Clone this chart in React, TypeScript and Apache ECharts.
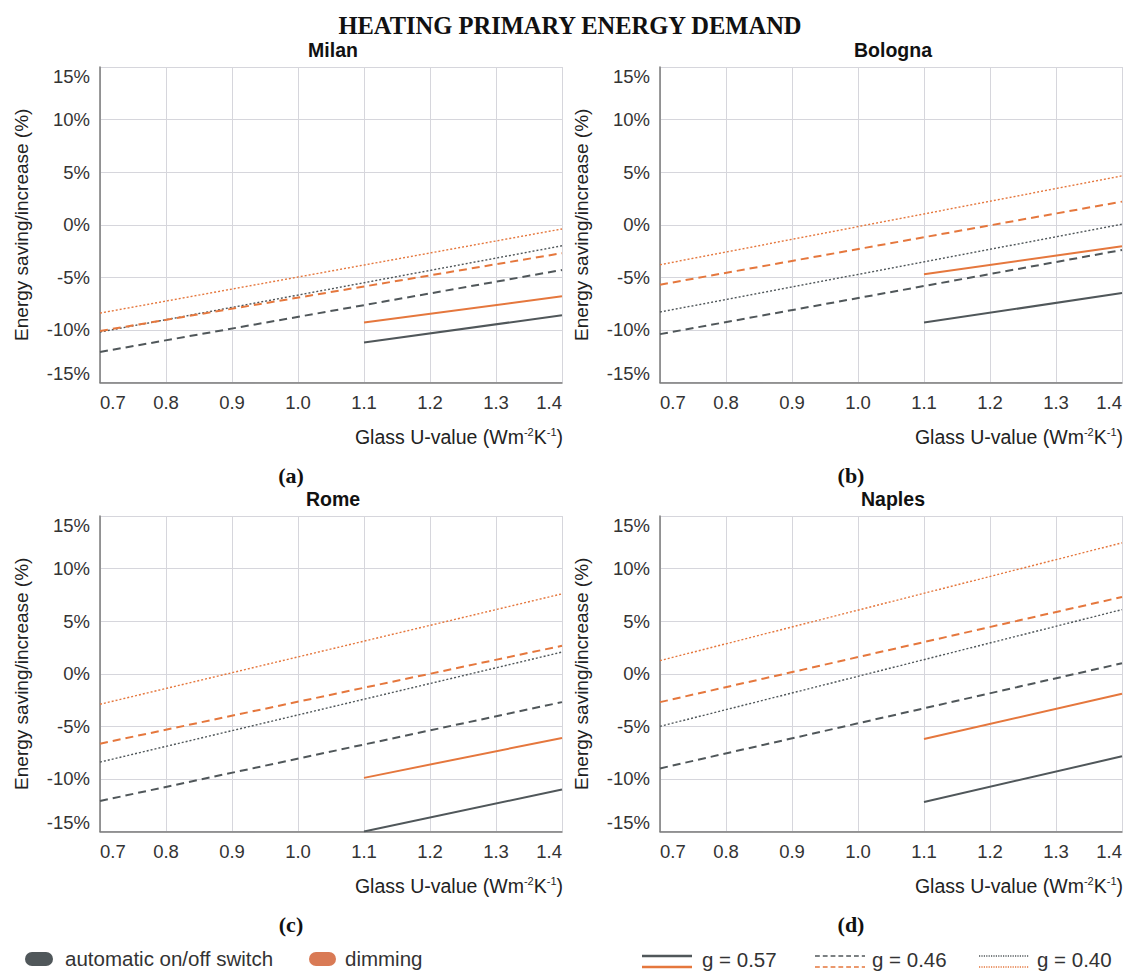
import React, { useEffect, useRef } from "react";
import * as echarts from "echarts";

// ---------- data ----------
const cities = ["Milan", "Bologna", "Rome", "Naples"];
const captions = ["(a)", "(b)", "(c)", "(d)"];
const uFull = [0.7, 1.4];
const uSolid = [1.1, 1.4];
const xTicks = [0.7, 0.8, 0.9, 1.0, 1.1, 1.2, 1.3, 1.4];
const yTicks = [-15, -10, -5, 0, 5, 10, 15];

// automatic on/off switch (gray) and dimming (orange); g = 0.57 solid, 0.46 dashed, 0.40 dotted
const milanAuto057 = [-11.2, -8.6];
const milanDim057 = [-9.3, -6.8];
const milanAuto046 = [-12.1, -4.3];
const milanDim046 = [-10.1, -2.7];
const milanAuto040 = [-10.2, -2.0];
const milanDim040 = [-8.4, -0.4];

const bolognaAuto057 = [-9.3, -6.5];
const bolognaDim057 = [-4.7, -2.05];
const bolognaAuto046 = [-10.4, -2.4];
const bolognaDim046 = [-5.7, 2.2];
const bolognaAuto040 = [-8.3, 0.05];
const bolognaDim040 = [-3.8, 4.65];

const romeAuto057 = [-15.0, -11.0];
const romeDim057 = [-9.9, -6.1];
const romeAuto046 = [-12.1, -2.7];
const romeDim046 = [-6.65, 2.66];
const romeAuto040 = [-8.4, 2.06];
const romeDim040 = [-2.9, 7.6];

const naplesAuto057 = [-12.2, -7.85];
const naplesDim057 = [-6.2, -1.9];
const naplesAuto046 = [-9.0, 1.0];
const naplesDim046 = [-2.7, 7.3];
const naplesAuto040 = [-5.0, 6.1];
const naplesDim040 = [1.25, 12.45];

const cityData = [
  [milanAuto057, milanDim057, milanAuto046, milanDim046, milanAuto040, milanDim040],
  [bolognaAuto057, bolognaDim057, bolognaAuto046, bolognaDim046, bolognaAuto040, bolognaDim040],
  [romeAuto057, romeDim057, romeAuto046, romeDim046, romeAuto040, romeDim040],
  [naplesAuto057, naplesDim057, naplesAuto046, naplesDim046, naplesAuto040, naplesDim040],
];
const seriesKinds = ["auto", "dim", "auto", "dim", "auto", "dim"];
const seriesG = ["0.57", "0.57", "0.46", "0.46", "0.40", "0.40"];

// ---------- styles ----------
const GRAY = "#50575a";
const ORANGE = "#e5773d";
const PILL_ORANGE = "#d97a55";
const FONT = "'Liberation Sans', Arial, Helvetica, sans-serif";
const SERIF = "'Liberation Serif', 'DejaVu Serif', serif";

const grids = [
  { left: 100, top: 67 },
  { left: 660, top: 67 },
  { left: 100, top: 516 },
  { left: 660, top: 516 },
];
const GW = 462;
const GH = 315.5;

function lineStyleFor(kind: string, g: string) {
  const color = kind === "auto" ? GRAY : ORANGE;
  if (g === "0.57") return { color, width: 2, type: "solid" as const };
  if (g === "0.46") return { color, width: 2, type: [8, 5] };
  return { color, width: 1.4, type: [2, 2] };
}

export default function App() {
  const ref = useRef<HTMLDivElement>(null);
  useEffect(() => {
    if (!ref.current) return;
    const chart = echarts.init(ref.current, undefined, { renderer: "svg" });

    const gridOpt = grids.map((g) => ({ left: g.left, top: g.top, width: GW, height: GH, containLabel: false }));

    const xAxes = grids.map((_, i) => ({
      type: "value",
      gridIndex: i,
      min: xTicks[0],
      max: xTicks[xTicks.length - 1],
      interval: 0.1,
      axisLine: { show: true, onZero: false, lineStyle: { color: "#7a7a7a", width: 1.5 } },
      axisTick: { show: false },
      splitLine: { show: true, lineStyle: { color: "#d6d6dc", width: 1 } },
      axisLabel: {
        formatter: (v: number) => v.toFixed(1),
        fontFamily: FONT,
        fontSize: 18.5,
        color: "#333",
        margin: 10,
        alignMinLabel: "left",
        alignMaxLabel: "right",
      },
    }));

    const yAxes = grids.map((_, i) => ({
      type: "value",
      gridIndex: i,
      min: yTicks[0],
      max: yTicks[yTicks.length - 1],
      interval: 5,
      axisLine: { show: true, onZero: false, lineStyle: { color: "#7a7a7a", width: 1.5 } },
      axisTick: { show: false },
      splitLine: { show: true, lineStyle: { color: "#d6d6dc", width: 1.2 } },
      axisLabel: {
        formatter: "{value}%",
        fontFamily: FONT,
        fontSize: 18.5,
        color: "#333",
        margin: 10,
        verticalAlignMinLabel: "bottom",
        verticalAlignMaxLabel: "top",
      },
      name: "Energy saving/increase (%)",
      nameLocation: "middle",
      nameRotate: 90,
      nameGap: 69,
      nameTextStyle: { fontFamily: FONT, fontSize: 19, color: "#222" },
    }));

    const series: any[] = [];
    cityData.forEach((sets, ci) => {
      sets.forEach((vals, si) => {
        const xs = seriesG[si] === "0.57" ? uSolid : uFull;
        series.push({
          type: "line",
          name: `${cities[ci]} ${seriesKinds[si]} g=${seriesG[si]}`,
          xAxisIndex: ci,
          yAxisIndex: ci,
          data: xs.map((x, k) => [x, vals[k]]),
          showSymbol: false,
          symbol: "none",
          lineStyle: lineStyleFor(seriesKinds[si], seriesG[si]),
          z: seriesKinds[si] === "dim" ? 3 : 2,
        });
      });
    });

    const graphics: any[] = [];
    graphics.push({
      type: "text",
      x: 570,
      y: 25,
      style: {
        text: "HEATING PRIMARY ENERGY DEMAND",
        font: `bold 24.5px ${SERIF}`,
        fill: "#111",
        textAlign: "center",
        textVerticalAlign: "middle",
      },
    });
    grids.forEach((g, i) => {
      graphics.push({
        type: "text",
        x: g.left + GW / 2 + 2,
        y: g.top - 17,
        style: {
          text: cities[i],
          font: `bold 19.5px ${FONT}`,
          fill: "#111",
          textAlign: "center",
          textVerticalAlign: "middle",
        },
      });
      graphics.push({
        type: "text",
        x: g.left + GW / 2 - 40,
        y: g.top + 408,
        style: {
          text: captions[i],
          font: `bold 22px ${SERIF}`,
          fill: "#111",
          textAlign: "center",
          textVerticalAlign: "middle",
        },
      });
      graphics.push({
        type: "text",
        x: g.left + GW + 1,
        y: g.top + 370,
        style: {
          text: "Glass U-value (Wm{s|-2}K{s|-1})",
          font: `19.5px ${FONT}`,
          fill: "#222",
          textAlign: "right",
          textVerticalAlign: "middle",
          rich: {
            s: { fontSize: 11, fontFamily: FONT, fill: "#222", verticalAlign: "top", lineHeight: 22 },
          },
          lineHeight: 22,
        },
      });
    });

    // legend (color)
    const ly = 958;
    graphics.push({ type: "rect", shape: { x: 25, y: ly - 6, width: 28, height: 14, r: 7 }, style: { fill: GRAY } });
    graphics.push({
      type: "text", x: 65, y: ly,
      style: { text: "automatic on/off switch", font: `20.5px ${FONT}`, fill: "#333", textVerticalAlign: "middle" },
    });
    graphics.push({ type: "rect", shape: { x: 309, y: ly - 6, width: 27, height: 14, r: 7 }, style: { fill: PILL_ORANGE } });
    graphics.push({
      type: "text", x: 345, y: ly,
      style: { text: "dimming", font: `20.5px ${FONT}`, fill: "#333", textVerticalAlign: "middle" },
    });

    // legend (line styles)
    const lineLegend = [
      { x: 642, tx: 702, g: "0.57" },
      { x: 815, tx: 872, g: "0.46" },
      { x: 979, tx: 1037, g: "0.40" },
    ];
    lineLegend.forEach((l) => {
      const gs = lineStyleFor("auto", l.g);
      const os = lineStyleFor("dim", l.g);
      graphics.push({
        type: "line",
        shape: { x1: l.x, y1: 956, x2: l.x + 50, y2: 956 },
        style: { stroke: GRAY, lineWidth: l.g === "0.57" ? 2.5 : 1.5, lineDash: Array.isArray(gs.type) ? gs.type.map((d) => d * 0.6) : null },
      });
      graphics.push({
        type: "line",
        shape: { x1: l.x, y1: 967, x2: l.x + 50, y2: 967 },
        style: { stroke: ORANGE, lineWidth: l.g === "0.57" ? 2.5 : 1.5, lineDash: Array.isArray(os.type) ? os.type.map((d) => d * 0.6) : null },
      });
      graphics.push({
        type: "text", x: l.tx, y: 959,
        style: { text: `g = ${l.g}`, font: `20.5px ${FONT}`, fill: "#333", textVerticalAlign: "middle" },
      });
    });

    chart.setOption({
      animation: false,
      backgroundColor: "#ffffff",
      grid: gridOpt,
      xAxis: xAxes,
      yAxis: yAxes,
      series,
      graphic: graphics,
    });
    return () => chart.dispose();
  }, []);

  return (
    <div
      ref={ref}
      style={{ position: "fixed", left: 0, top: 0, width: 1126, height: 971, background: "#fff" }}
    />
  );
}
